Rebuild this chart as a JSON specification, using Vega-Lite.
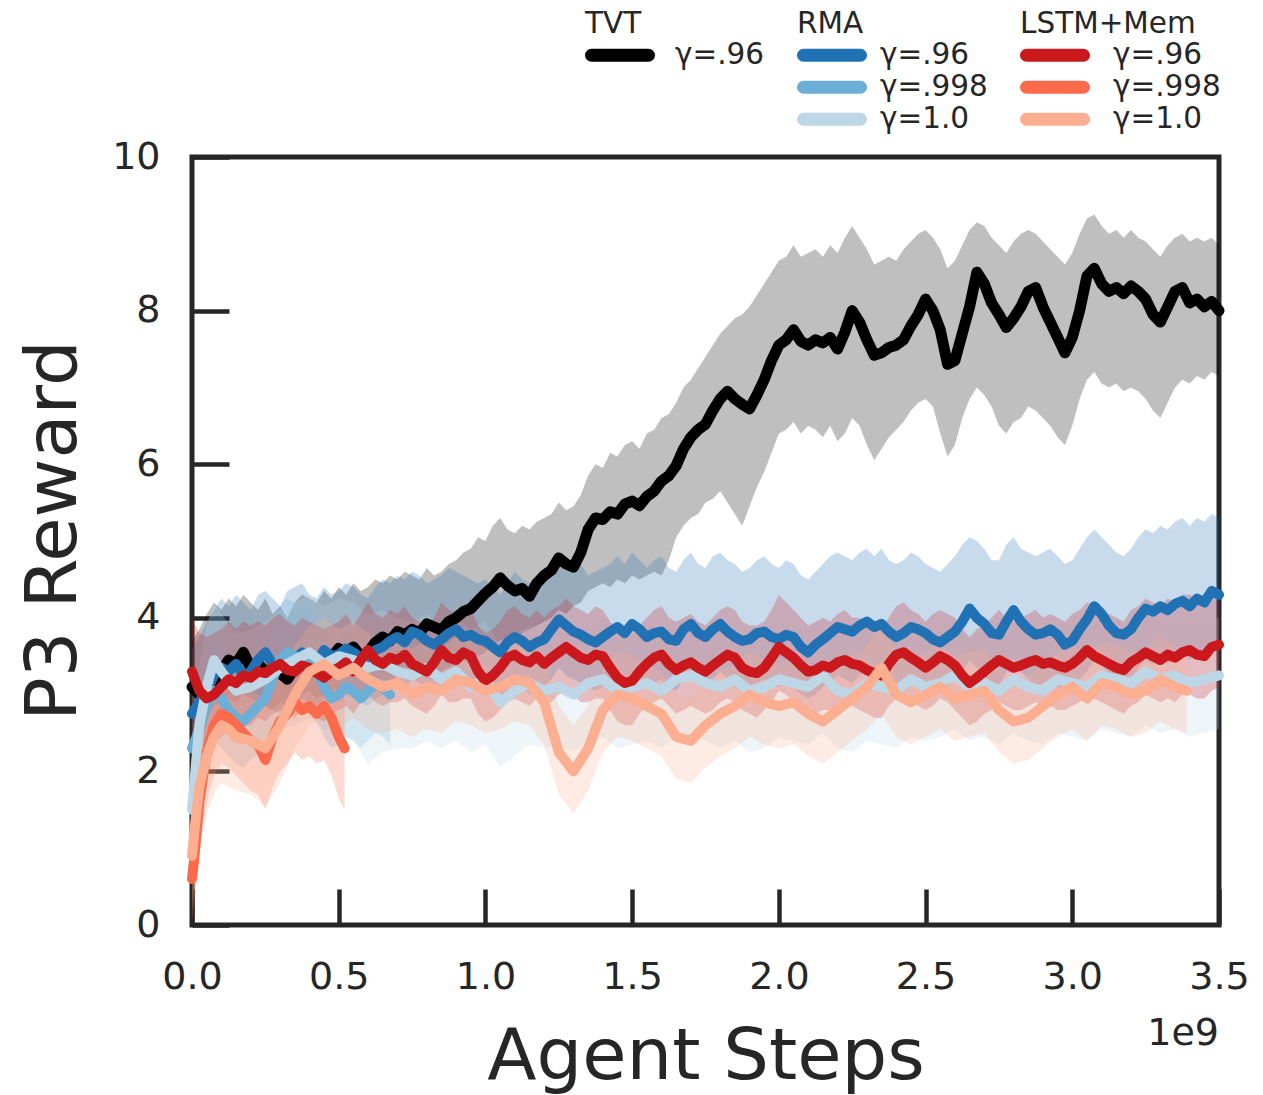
{
  "$schema": "https://vega.github.io/schema/vega-lite/v6.json",
  "width": 1027,
  "height": 768,
  "autosize": {"type": "none"},
  "padding": {"left": 192, "top": 157, "right": 44, "bottom": 170},
  "background": "white",
  "config": {
    "font": "DejaVu Sans",
    "view": {"stroke": "#262626", "strokeWidth": 5},
    "axis": {
      "domain": false, "grid": false, "ticks": true,
      "tickColor": "#262626", "tickWidth": 4.5,
      "labelColor": "#262626", "labelFont": "DejaVu Sans", "labelFontSize": 38,
      "labelFlush": false, "labelOverlap": false,
      "titleColor": "#262626", "titleFont": "DejaVu Sans", "titleFontSize": 72, "titleFontWeight": "normal"
    },
    "axisX": {"tickSize": -36, "labelPadding": 69, "titleX": 513.5, "titleY": 153, "titleBaseline": "alphabetic", "titleAlign": "center"},
    "axisY": {"tickSize": -37, "labelPadding": 69, "titleX": -117, "titleY": 373, "titleAngle": 270, "titleBaseline": "alphabetic", "titleAlign": "center"},
    "legend": {
      "orient": "none", "padding": 0, "offset": 0,
      "titleFont": "DejaVu Sans", "titleFontSize": 29.5, "titleFontWeight": "normal", "titleColor": "#262626",
      "titleBaseline": "top", "titlePadding": 0,
      "labelFont": "DejaVu Sans", "labelFontSize": 29.5, "labelColor": "#262626", "labelBaseline": "middle",
      "symbolType": "stroke", "symbolSize": 3249, "symbolStrokeWidth": 13, "symbolOpacity": 1,
      "clipHeight": 31.5, "rowPadding": 0
    }
  },
  "datasets": {
    "tvt": [
      {"g":"γ=.96","x":0.000,"y":3.10,"lo":2.55,"hi":3.70},
      {"g":"γ=.96","x":0.025,"y":3.00,"lo":2.60,"hi":3.85},
      {"g":"γ=.96","x":0.050,"y":2.95,"lo":2.70,"hi":4.05},
      {"g":"γ=.96","x":0.075,"y":3.15,"lo":2.85,"hi":4.20},
      {"g":"γ=.96","x":0.100,"y":3.30,"lo":2.90,"hi":4.10},
      {"g":"γ=.96","x":0.125,"y":3.45,"lo":2.95,"hi":4.25},
      {"g":"γ=.96","x":0.150,"y":3.40,"lo":2.90,"hi":4.15},
      {"g":"γ=.96","x":0.175,"y":3.55,"lo":3.00,"hi":4.30},
      {"g":"γ=.96","x":0.200,"y":3.35,"lo":2.95,"hi":4.20},
      {"g":"γ=.96","x":0.225,"y":3.40,"lo":2.90,"hi":4.10},
      {"g":"γ=.96","x":0.250,"y":3.30,"lo":2.85,"hi":4.25},
      {"g":"γ=.96","x":0.275,"y":3.25,"lo":2.80,"hi":4.05},
      {"g":"γ=.96","x":0.300,"y":3.28,"lo":2.90,"hi":4.15},
      {"g":"γ=.96","x":0.325,"y":3.20,"lo":2.85,"hi":4.00},
      {"g":"γ=.96","x":0.350,"y":3.35,"lo":2.95,"hi":4.20},
      {"g":"γ=.96","x":0.375,"y":3.40,"lo":3.00,"hi":4.30},
      {"g":"γ=.96","x":0.400,"y":3.45,"lo":3.05,"hi":4.25},
      {"g":"γ=.96","x":0.425,"y":3.42,"lo":2.95,"hi":4.20},
      {"g":"γ=.96","x":0.450,"y":3.52,"lo":3.00,"hi":4.35},
      {"g":"γ=.96","x":0.475,"y":3.48,"lo":3.05,"hi":4.25},
      {"g":"γ=.96","x":0.500,"y":3.60,"lo":3.10,"hi":4.40},
      {"g":"γ=.96","x":0.525,"y":3.55,"lo":3.05,"hi":4.30},
      {"g":"γ=.96","x":0.550,"y":3.62,"lo":3.10,"hi":4.45},
      {"g":"γ=.96","x":0.575,"y":3.50,"lo":3.05,"hi":4.35},
      {"g":"γ=.96","x":0.600,"y":3.55,"lo":3.10,"hi":4.40},
      {"g":"γ=.96","x":0.625,"y":3.68,"lo":3.15,"hi":4.50},
      {"g":"γ=.96","x":0.650,"y":3.75,"lo":3.20,"hi":4.45},
      {"g":"γ=.96","x":0.675,"y":3.70,"lo":3.15,"hi":4.55},
      {"g":"γ=.96","x":0.700,"y":3.82,"lo":3.25,"hi":4.50},
      {"g":"γ=.96","x":0.725,"y":3.78,"lo":3.20,"hi":4.60},
      {"g":"γ=.96","x":0.750,"y":3.85,"lo":3.30,"hi":4.55},
      {"g":"γ=.96","x":0.775,"y":3.80,"lo":3.25,"hi":4.50},
      {"g":"γ=.96","x":0.800,"y":3.92,"lo":3.30,"hi":4.65},
      {"g":"γ=.96","x":0.825,"y":3.88,"lo":3.25,"hi":4.55},
      {"g":"γ=.96","x":0.850,"y":3.84,"lo":3.30,"hi":4.60},
      {"g":"γ=.96","x":0.875,"y":3.95,"lo":3.35,"hi":4.70},
      {"g":"γ=.96","x":0.900,"y":4.00,"lo":3.40,"hi":4.75},
      {"g":"γ=.96","x":0.925,"y":4.08,"lo":3.45,"hi":4.85},
      {"g":"γ=.96","x":0.950,"y":4.12,"lo":3.40,"hi":4.90},
      {"g":"γ=.96","x":0.975,"y":4.22,"lo":3.50,"hi":5.05},
      {"g":"γ=.96","x":1.000,"y":4.32,"lo":3.55,"hi":5.00},
      {"g":"γ=.96","x":1.025,"y":4.40,"lo":3.65,"hi":5.20},
      {"g":"γ=.96","x":1.050,"y":4.52,"lo":3.70,"hi":5.30},
      {"g":"γ=.96","x":1.075,"y":4.42,"lo":3.75,"hi":5.15},
      {"g":"γ=.96","x":1.100,"y":4.35,"lo":3.70,"hi":5.10},
      {"g":"γ=.96","x":1.125,"y":4.38,"lo":3.80,"hi":5.20},
      {"g":"γ=.96","x":1.150,"y":4.28,"lo":3.85,"hi":5.15},
      {"g":"γ=.96","x":1.175,"y":4.45,"lo":3.90,"hi":5.25},
      {"g":"γ=.96","x":1.200,"y":4.55,"lo":3.95,"hi":5.30},
      {"g":"γ=.96","x":1.225,"y":4.62,"lo":4.00,"hi":5.35},
      {"g":"γ=.96","x":1.250,"y":4.78,"lo":4.10,"hi":5.50},
      {"g":"γ=.96","x":1.275,"y":4.70,"lo":4.05,"hi":5.40},
      {"g":"γ=.96","x":1.300,"y":4.66,"lo":4.15,"hi":5.45},
      {"g":"γ=.96","x":1.325,"y":4.85,"lo":4.20,"hi":5.60},
      {"g":"γ=.96","x":1.350,"y":5.15,"lo":4.35,"hi":5.85},
      {"g":"γ=.96","x":1.375,"y":5.30,"lo":4.40,"hi":6.00},
      {"g":"γ=.96","x":1.400,"y":5.28,"lo":4.45,"hi":5.95},
      {"g":"γ=.96","x":1.425,"y":5.38,"lo":4.40,"hi":6.15},
      {"g":"γ=.96","x":1.450,"y":5.35,"lo":4.50,"hi":6.10},
      {"g":"γ=.96","x":1.475,"y":5.48,"lo":4.45,"hi":6.25},
      {"g":"γ=.96","x":1.500,"y":5.52,"lo":4.55,"hi":6.30},
      {"g":"γ=.96","x":1.525,"y":5.46,"lo":4.50,"hi":6.20},
      {"g":"γ=.96","x":1.550,"y":5.58,"lo":4.55,"hi":6.40},
      {"g":"γ=.96","x":1.575,"y":5.65,"lo":4.60,"hi":6.45},
      {"g":"γ=.96","x":1.600,"y":5.78,"lo":4.55,"hi":6.60},
      {"g":"γ=.96","x":1.625,"y":5.85,"lo":4.75,"hi":6.65},
      {"g":"γ=.96","x":1.650,"y":5.98,"lo":5.05,"hi":6.80},
      {"g":"γ=.96","x":1.675,"y":6.20,"lo":5.20,"hi":7.00},
      {"g":"γ=.96","x":1.700,"y":6.35,"lo":5.30,"hi":7.10},
      {"g":"γ=.96","x":1.725,"y":6.45,"lo":5.35,"hi":7.25},
      {"g":"γ=.96","x":1.750,"y":6.52,"lo":5.50,"hi":7.40},
      {"g":"γ=.96","x":1.775,"y":6.70,"lo":5.55,"hi":7.55},
      {"g":"γ=.96","x":1.800,"y":6.85,"lo":5.65,"hi":7.70},
      {"g":"γ=.96","x":1.825,"y":6.95,"lo":5.50,"hi":7.80},
      {"g":"γ=.96","x":1.850,"y":6.85,"lo":5.35,"hi":7.90},
      {"g":"γ=.96","x":1.875,"y":6.78,"lo":5.20,"hi":7.95},
      {"g":"γ=.96","x":1.900,"y":6.72,"lo":5.45,"hi":8.05},
      {"g":"γ=.96","x":1.925,"y":6.90,"lo":5.70,"hi":8.20},
      {"g":"γ=.96","x":1.950,"y":7.10,"lo":5.90,"hi":8.35},
      {"g":"γ=.96","x":1.975,"y":7.35,"lo":6.15,"hi":8.50},
      {"g":"γ=.96","x":2.000,"y":7.55,"lo":6.40,"hi":8.65},
      {"g":"γ=.96","x":2.025,"y":7.62,"lo":6.45,"hi":8.70},
      {"g":"γ=.96","x":2.050,"y":7.75,"lo":6.55,"hi":8.85},
      {"g":"γ=.96","x":2.075,"y":7.60,"lo":6.40,"hi":8.70},
      {"g":"γ=.96","x":2.100,"y":7.55,"lo":6.50,"hi":8.75},
      {"g":"γ=.96","x":2.125,"y":7.62,"lo":6.45,"hi":8.80},
      {"g":"γ=.96","x":2.150,"y":7.58,"lo":6.35,"hi":8.70},
      {"g":"γ=.96","x":2.175,"y":7.65,"lo":6.50,"hi":8.85},
      {"g":"γ=.96","x":2.200,"y":7.50,"lo":6.30,"hi":8.75},
      {"g":"γ=.96","x":2.225,"y":7.72,"lo":6.40,"hi":8.95},
      {"g":"γ=.96","x":2.250,"y":8.00,"lo":6.60,"hi":9.10},
      {"g":"γ=.96","x":2.275,"y":7.85,"lo":6.50,"hi":8.95},
      {"g":"γ=.96","x":2.300,"y":7.62,"lo":6.25,"hi":8.80},
      {"g":"γ=.96","x":2.325,"y":7.42,"lo":6.05,"hi":8.60},
      {"g":"γ=.96","x":2.350,"y":7.45,"lo":6.20,"hi":8.65},
      {"g":"γ=.96","x":2.375,"y":7.52,"lo":6.35,"hi":8.70},
      {"g":"γ=.96","x":2.400,"y":7.55,"lo":6.45,"hi":8.65},
      {"g":"γ=.96","x":2.425,"y":7.62,"lo":6.55,"hi":8.80},
      {"g":"γ=.96","x":2.450,"y":7.80,"lo":6.70,"hi":8.90},
      {"g":"γ=.96","x":2.475,"y":7.95,"lo":6.80,"hi":9.00},
      {"g":"γ=.96","x":2.500,"y":8.15,"lo":6.85,"hi":9.05},
      {"g":"γ=.96","x":2.525,"y":8.00,"lo":6.75,"hi":8.95},
      {"g":"γ=.96","x":2.550,"y":7.75,"lo":6.40,"hi":8.80},
      {"g":"γ=.96","x":2.575,"y":7.30,"lo":6.10,"hi":8.55},
      {"g":"γ=.96","x":2.600,"y":7.35,"lo":6.25,"hi":8.65},
      {"g":"γ=.96","x":2.625,"y":7.70,"lo":6.60,"hi":8.85},
      {"g":"γ=.96","x":2.650,"y":8.05,"lo":6.85,"hi":9.05},
      {"g":"γ=.96","x":2.675,"y":8.50,"lo":7.00,"hi":9.15},
      {"g":"γ=.96","x":2.700,"y":8.35,"lo":6.90,"hi":9.10},
      {"g":"γ=.96","x":2.725,"y":8.10,"lo":6.75,"hi":8.95},
      {"g":"γ=.96","x":2.750,"y":7.95,"lo":6.50,"hi":8.85},
      {"g":"γ=.96","x":2.775,"y":7.78,"lo":6.40,"hi":8.75},
      {"g":"γ=.96","x":2.800,"y":7.90,"lo":6.55,"hi":8.90},
      {"g":"γ=.96","x":2.825,"y":8.05,"lo":6.60,"hi":9.00},
      {"g":"γ=.96","x":2.850,"y":8.25,"lo":6.75,"hi":9.05},
      {"g":"γ=.96","x":2.875,"y":8.30,"lo":6.70,"hi":9.00},
      {"g":"γ=.96","x":2.900,"y":8.05,"lo":6.60,"hi":8.90},
      {"g":"γ=.96","x":2.925,"y":7.85,"lo":6.50,"hi":8.80},
      {"g":"γ=.96","x":2.950,"y":7.65,"lo":6.35,"hi":8.70},
      {"g":"γ=.96","x":2.975,"y":7.45,"lo":6.25,"hi":8.60},
      {"g":"γ=.96","x":3.000,"y":7.65,"lo":6.50,"hi":8.75},
      {"g":"γ=.96","x":3.025,"y":8.00,"lo":6.85,"hi":9.00},
      {"g":"γ=.96","x":3.050,"y":8.45,"lo":7.10,"hi":9.20},
      {"g":"γ=.96","x":3.075,"y":8.55,"lo":7.20,"hi":9.25},
      {"g":"γ=.96","x":3.100,"y":8.35,"lo":7.05,"hi":9.10},
      {"g":"γ=.96","x":3.125,"y":8.25,"lo":7.00,"hi":9.00},
      {"g":"γ=.96","x":3.150,"y":8.30,"lo":7.05,"hi":9.05},
      {"g":"γ=.96","x":3.175,"y":8.22,"lo":6.95,"hi":8.95},
      {"g":"γ=.96","x":3.200,"y":8.32,"lo":7.00,"hi":9.05},
      {"g":"γ=.96","x":3.225,"y":8.25,"lo":6.95,"hi":8.95},
      {"g":"γ=.96","x":3.250,"y":8.15,"lo":6.85,"hi":8.90},
      {"g":"γ=.96","x":3.275,"y":7.95,"lo":6.70,"hi":8.80},
      {"g":"γ=.96","x":3.300,"y":7.85,"lo":6.60,"hi":8.70},
      {"g":"γ=.96","x":3.325,"y":8.05,"lo":6.80,"hi":8.85},
      {"g":"γ=.96","x":3.350,"y":8.25,"lo":7.00,"hi":8.95},
      {"g":"γ=.96","x":3.375,"y":8.30,"lo":7.10,"hi":9.00},
      {"g":"γ=.96","x":3.400,"y":8.10,"lo":7.05,"hi":8.90},
      {"g":"γ=.96","x":3.425,"y":8.15,"lo":7.15,"hi":8.95},
      {"g":"γ=.96","x":3.450,"y":8.05,"lo":7.10,"hi":8.90},
      {"g":"γ=.96","x":3.475,"y":8.12,"lo":7.20,"hi":8.95},
      {"g":"γ=.96","x":3.500,"y":8.00,"lo":7.15,"hi":8.85}
    ],
    "rma": [
      {"g":"γ=.96","x":0.000,"y":2.75,"lo":1.90,"hi":3.60},
      {"g":"γ=.96","x":0.025,"y":2.90,"lo":2.10,"hi":3.75},
      {"g":"γ=.96","x":0.050,"y":3.05,"lo":2.30,"hi":3.95},
      {"g":"γ=.96","x":0.075,"y":3.25,"lo":2.55,"hi":4.10},
      {"g":"γ=.96","x":0.100,"y":3.35,"lo":2.70,"hi":4.25},
      {"g":"γ=.96","x":0.125,"y":3.30,"lo":2.65,"hi":4.15},
      {"g":"γ=.96","x":0.150,"y":3.40,"lo":2.75,"hi":4.30},
      {"g":"γ=.96","x":0.175,"y":3.25,"lo":2.60,"hi":4.20},
      {"g":"γ=.96","x":0.200,"y":3.30,"lo":2.70,"hi":4.10},
      {"g":"γ=.96","x":0.225,"y":3.45,"lo":2.80,"hi":4.30},
      {"g":"γ=.96","x":0.250,"y":3.55,"lo":2.85,"hi":4.35},
      {"g":"γ=.96","x":0.275,"y":3.40,"lo":2.80,"hi":4.25},
      {"g":"γ=.96","x":0.300,"y":3.35,"lo":2.75,"hi":4.15},
      {"g":"γ=.96","x":0.325,"y":3.50,"lo":2.85,"hi":4.35},
      {"g":"γ=.96","x":0.350,"y":3.45,"lo":2.80,"hi":4.40},
      {"g":"γ=.96","x":0.375,"y":3.55,"lo":2.95,"hi":4.45},
      {"g":"γ=.96","x":0.400,"y":3.50,"lo":2.90,"hi":4.30},
      {"g":"γ=.96","x":0.425,"y":3.42,"lo":2.85,"hi":4.25},
      {"g":"γ=.96","x":0.450,"y":3.58,"lo":2.95,"hi":4.40},
      {"g":"γ=.96","x":0.475,"y":3.50,"lo":2.90,"hi":4.30},
      {"g":"γ=.96","x":0.500,"y":3.52,"lo":2.95,"hi":4.35},
      {"g":"γ=.96","x":0.525,"y":3.60,"lo":3.00,"hi":4.45},
      {"g":"γ=.96","x":0.550,"y":3.55,"lo":2.95,"hi":4.40},
      {"g":"γ=.96","x":0.575,"y":3.48,"lo":2.90,"hi":4.30},
      {"g":"γ=.96","x":0.600,"y":3.45,"lo":2.85,"hi":4.25},
      {"g":"γ=.96","x":0.625,"y":3.58,"lo":2.95,"hi":4.40},
      {"g":"γ=.96","x":0.650,"y":3.62,"lo":3.00,"hi":4.50},
      {"g":"γ=.96","x":0.675,"y":3.70,"lo":3.10,"hi":4.45},
      {"g":"γ=.96","x":0.700,"y":3.75,"lo":3.15,"hi":4.55},
      {"g":"γ=.96","x":0.725,"y":3.68,"lo":3.05,"hi":4.50},
      {"g":"γ=.96","x":0.750,"y":3.82,"lo":3.20,"hi":4.60},
      {"g":"γ=.96","x":0.775,"y":3.78,"lo":3.15,"hi":4.55},
      {"g":"γ=.96","x":0.800,"y":3.70,"lo":3.10,"hi":4.45},
      {"g":"γ=.96","x":0.825,"y":3.65,"lo":3.05,"hi":4.50},
      {"g":"γ=.96","x":0.850,"y":3.72,"lo":3.10,"hi":4.55},
      {"g":"γ=.96","x":0.875,"y":3.80,"lo":3.20,"hi":4.65},
      {"g":"γ=.96","x":0.900,"y":3.85,"lo":3.25,"hi":4.60},
      {"g":"γ=.96","x":0.925,"y":3.75,"lo":3.15,"hi":4.55},
      {"g":"γ=.96","x":0.950,"y":3.78,"lo":3.20,"hi":4.50},
      {"g":"γ=.96","x":0.975,"y":3.72,"lo":3.10,"hi":4.45},
      {"g":"γ=.96","x":1.000,"y":3.70,"lo":3.10,"hi":4.50},
      {"g":"γ=.96","x":1.025,"y":3.62,"lo":3.00,"hi":4.40},
      {"g":"γ=.96","x":1.050,"y":3.55,"lo":2.95,"hi":4.30},
      {"g":"γ=.96","x":1.075,"y":3.68,"lo":3.05,"hi":4.45},
      {"g":"γ=.96","x":1.100,"y":3.75,"lo":3.15,"hi":4.60},
      {"g":"γ=.96","x":1.125,"y":3.70,"lo":3.10,"hi":4.50},
      {"g":"γ=.96","x":1.150,"y":3.62,"lo":3.00,"hi":4.45},
      {"g":"γ=.96","x":1.175,"y":3.68,"lo":3.05,"hi":4.55},
      {"g":"γ=.96","x":1.200,"y":3.72,"lo":3.10,"hi":4.60},
      {"g":"γ=.96","x":1.225,"y":3.85,"lo":3.20,"hi":4.70},
      {"g":"γ=.96","x":1.250,"y":3.98,"lo":3.35,"hi":4.80},
      {"g":"γ=.96","x":1.275,"y":3.90,"lo":3.25,"hi":4.75},
      {"g":"γ=.96","x":1.300,"y":3.82,"lo":3.20,"hi":4.65},
      {"g":"γ=.96","x":1.325,"y":3.78,"lo":3.15,"hi":4.70},
      {"g":"γ=.96","x":1.350,"y":3.72,"lo":3.10,"hi":4.55},
      {"g":"γ=.96","x":1.375,"y":3.68,"lo":3.05,"hi":4.60},
      {"g":"γ=.96","x":1.400,"y":3.75,"lo":3.10,"hi":4.65},
      {"g":"γ=.96","x":1.425,"y":3.82,"lo":3.20,"hi":4.70},
      {"g":"γ=.96","x":1.450,"y":3.88,"lo":3.25,"hi":4.80},
      {"g":"γ=.96","x":1.475,"y":3.80,"lo":3.15,"hi":4.70},
      {"g":"γ=.96","x":1.500,"y":3.92,"lo":3.30,"hi":4.85},
      {"g":"γ=.96","x":1.525,"y":3.85,"lo":3.20,"hi":4.75},
      {"g":"γ=.96","x":1.550,"y":3.75,"lo":3.10,"hi":4.65},
      {"g":"γ=.96","x":1.575,"y":3.80,"lo":3.15,"hi":4.75},
      {"g":"γ=.96","x":1.600,"y":3.82,"lo":3.20,"hi":4.80},
      {"g":"γ=.96","x":1.625,"y":3.72,"lo":3.10,"hi":4.65},
      {"g":"γ=.96","x":1.650,"y":3.70,"lo":3.05,"hi":4.60},
      {"g":"γ=.96","x":1.675,"y":3.85,"lo":3.20,"hi":4.75},
      {"g":"γ=.96","x":1.700,"y":3.92,"lo":3.30,"hi":4.85},
      {"g":"γ=.96","x":1.725,"y":3.80,"lo":3.15,"hi":4.70},
      {"g":"γ=.96","x":1.750,"y":3.75,"lo":3.10,"hi":4.65},
      {"g":"γ=.96","x":1.775,"y":3.85,"lo":3.20,"hi":4.80},
      {"g":"γ=.96","x":1.800,"y":3.92,"lo":3.30,"hi":4.85},
      {"g":"γ=.96","x":1.825,"y":3.82,"lo":3.20,"hi":4.75},
      {"g":"γ=.96","x":1.850,"y":3.75,"lo":3.10,"hi":4.70},
      {"g":"γ=.96","x":1.875,"y":3.70,"lo":3.05,"hi":4.60},
      {"g":"γ=.96","x":1.900,"y":3.72,"lo":3.10,"hi":4.65},
      {"g":"γ=.96","x":1.925,"y":3.80,"lo":3.15,"hi":4.75},
      {"g":"γ=.96","x":1.950,"y":3.82,"lo":3.20,"hi":4.80},
      {"g":"γ=.96","x":1.975,"y":3.75,"lo":3.10,"hi":4.70},
      {"g":"γ=.96","x":2.000,"y":3.72,"lo":3.10,"hi":4.65},
      {"g":"γ=.96","x":2.025,"y":3.78,"lo":3.15,"hi":4.75},
      {"g":"γ=.96","x":2.050,"y":3.75,"lo":3.10,"hi":4.70},
      {"g":"γ=.96","x":2.075,"y":3.62,"lo":3.00,"hi":4.55},
      {"g":"γ=.96","x":2.100,"y":3.55,"lo":2.95,"hi":4.50},
      {"g":"γ=.96","x":2.125,"y":3.65,"lo":3.00,"hi":4.60},
      {"g":"γ=.96","x":2.150,"y":3.72,"lo":3.10,"hi":4.70},
      {"g":"γ=.96","x":2.175,"y":3.80,"lo":3.15,"hi":4.80},
      {"g":"γ=.96","x":2.200,"y":3.88,"lo":3.25,"hi":4.85},
      {"g":"γ=.96","x":2.225,"y":3.85,"lo":3.20,"hi":4.80},
      {"g":"γ=.96","x":2.250,"y":3.82,"lo":3.15,"hi":4.75},
      {"g":"γ=.96","x":2.275,"y":3.90,"lo":3.25,"hi":4.85},
      {"g":"γ=.96","x":2.300,"y":3.95,"lo":3.30,"hi":4.90},
      {"g":"γ=.96","x":2.325,"y":3.88,"lo":3.25,"hi":4.80},
      {"g":"γ=.96","x":2.350,"y":3.92,"lo":3.30,"hi":4.90},
      {"g":"γ=.96","x":2.375,"y":3.82,"lo":3.15,"hi":4.75},
      {"g":"γ=.96","x":2.400,"y":3.75,"lo":3.10,"hi":4.70},
      {"g":"γ=.96","x":2.425,"y":3.80,"lo":3.15,"hi":4.75},
      {"g":"γ=.96","x":2.450,"y":3.88,"lo":3.25,"hi":4.85},
      {"g":"γ=.96","x":2.475,"y":3.85,"lo":3.20,"hi":4.80},
      {"g":"γ=.96","x":2.500,"y":3.80,"lo":3.15,"hi":4.70},
      {"g":"γ=.96","x":2.525,"y":3.72,"lo":3.10,"hi":4.65},
      {"g":"γ=.96","x":2.550,"y":3.68,"lo":3.05,"hi":4.60},
      {"g":"γ=.96","x":2.575,"y":3.75,"lo":3.10,"hi":4.70},
      {"g":"γ=.96","x":2.600,"y":3.82,"lo":3.20,"hi":4.80},
      {"g":"γ=.96","x":2.625,"y":3.95,"lo":3.30,"hi":4.95},
      {"g":"γ=.96","x":2.650,"y":4.12,"lo":3.45,"hi":5.05},
      {"g":"γ=.96","x":2.675,"y":4.00,"lo":3.35,"hi":5.00},
      {"g":"γ=.96","x":2.700,"y":3.92,"lo":3.25,"hi":4.90},
      {"g":"γ=.96","x":2.725,"y":3.80,"lo":3.15,"hi":4.75},
      {"g":"γ=.96","x":2.750,"y":3.78,"lo":3.10,"hi":4.75},
      {"g":"γ=.96","x":2.775,"y":3.95,"lo":3.30,"hi":4.95},
      {"g":"γ=.96","x":2.800,"y":4.10,"lo":3.45,"hi":5.05},
      {"g":"γ=.96","x":2.825,"y":3.95,"lo":3.30,"hi":4.90},
      {"g":"γ=.96","x":2.850,"y":3.85,"lo":3.20,"hi":4.85},
      {"g":"γ=.96","x":2.875,"y":3.78,"lo":3.10,"hi":4.80},
      {"g":"γ=.96","x":2.900,"y":3.80,"lo":3.15,"hi":4.85},
      {"g":"γ=.96","x":2.925,"y":3.85,"lo":3.20,"hi":4.90},
      {"g":"γ=.96","x":2.950,"y":3.78,"lo":3.10,"hi":4.80},
      {"g":"γ=.96","x":2.975,"y":3.65,"lo":3.00,"hi":4.70},
      {"g":"γ=.96","x":3.000,"y":3.70,"lo":3.05,"hi":4.75},
      {"g":"γ=.96","x":3.025,"y":3.85,"lo":3.20,"hi":4.90},
      {"g":"γ=.96","x":3.050,"y":3.98,"lo":3.30,"hi":5.05},
      {"g":"γ=.96","x":3.075,"y":4.15,"lo":3.45,"hi":5.15},
      {"g":"γ=.96","x":3.100,"y":4.05,"lo":3.40,"hi":5.05},
      {"g":"γ=.96","x":3.125,"y":3.90,"lo":3.25,"hi":4.95},
      {"g":"γ=.96","x":3.150,"y":3.80,"lo":3.15,"hi":4.85},
      {"g":"γ=.96","x":3.175,"y":3.78,"lo":3.10,"hi":4.80},
      {"g":"γ=.96","x":3.200,"y":3.85,"lo":3.20,"hi":4.90},
      {"g":"γ=.96","x":3.225,"y":4.00,"lo":3.35,"hi":5.05},
      {"g":"γ=.96","x":3.250,"y":4.12,"lo":3.45,"hi":5.15},
      {"g":"γ=.96","x":3.275,"y":4.08,"lo":3.40,"hi":5.10},
      {"g":"γ=.96","x":3.300,"y":4.15,"lo":3.45,"hi":5.20},
      {"g":"γ=.96","x":3.325,"y":4.10,"lo":3.40,"hi":5.15},
      {"g":"γ=.96","x":3.350,"y":4.18,"lo":3.50,"hi":5.25},
      {"g":"γ=.96","x":3.375,"y":4.22,"lo":3.55,"hi":5.30},
      {"g":"γ=.96","x":3.400,"y":4.15,"lo":3.45,"hi":5.20},
      {"g":"γ=.96","x":3.425,"y":4.25,"lo":3.55,"hi":5.30},
      {"g":"γ=.96","x":3.450,"y":4.20,"lo":3.50,"hi":5.25},
      {"g":"γ=.96","x":3.475,"y":4.35,"lo":3.65,"hi":5.35},
      {"g":"γ=.96","x":3.500,"y":4.30,"lo":3.60,"hi":5.30},
      {"g":"γ=.998","x":0.000,"y":2.30,"lo":1.60,"hi":3.00},
      {"g":"γ=.998","x":0.025,"y":2.55,"lo":1.90,"hi":3.25},
      {"g":"γ=.998","x":0.050,"y":2.85,"lo":2.20,"hi":3.55},
      {"g":"γ=.998","x":0.075,"y":3.05,"lo":2.40,"hi":3.75},
      {"g":"γ=.998","x":0.100,"y":2.95,"lo":2.30,"hi":3.65},
      {"g":"γ=.998","x":0.125,"y":2.80,"lo":2.20,"hi":3.50},
      {"g":"γ=.998","x":0.150,"y":2.70,"lo":2.10,"hi":3.40},
      {"g":"γ=.998","x":0.175,"y":2.65,"lo":2.05,"hi":3.35},
      {"g":"γ=.998","x":0.200,"y":2.75,"lo":2.15,"hi":3.45},
      {"g":"γ=.998","x":0.225,"y":2.85,"lo":2.25,"hi":3.55},
      {"g":"γ=.998","x":0.250,"y":2.95,"lo":2.35,"hi":3.65},
      {"g":"γ=.998","x":0.275,"y":3.20,"lo":2.55,"hi":3.90},
      {"g":"γ=.998","x":0.300,"y":3.45,"lo":2.80,"hi":4.15},
      {"g":"γ=.998","x":0.325,"y":3.55,"lo":2.90,"hi":4.25},
      {"g":"γ=.998","x":0.350,"y":3.50,"lo":2.85,"hi":4.20},
      {"g":"γ=.998","x":0.375,"y":3.40,"lo":2.75,"hi":4.10},
      {"g":"γ=.998","x":0.400,"y":3.50,"lo":2.85,"hi":4.20},
      {"g":"γ=.998","x":0.425,"y":3.30,"lo":2.65,"hi":4.00},
      {"g":"γ=.998","x":0.450,"y":3.10,"lo":2.45,"hi":3.80},
      {"g":"γ=.998","x":0.475,"y":2.95,"lo":2.30,"hi":3.65},
      {"g":"γ=.998","x":0.500,"y":3.00,"lo":2.35,"hi":3.70},
      {"g":"γ=.998","x":0.525,"y":3.10,"lo":2.45,"hi":3.80},
      {"g":"γ=.998","x":0.550,"y":3.05,"lo":2.40,"hi":3.75},
      {"g":"γ=.998","x":0.575,"y":2.95,"lo":2.30,"hi":3.65},
      {"g":"γ=.998","x":0.600,"y":3.05,"lo":2.40,"hi":3.75},
      {"g":"γ=.998","x":0.625,"y":3.15,"lo":2.50,"hi":3.85},
      {"g":"γ=.998","x":0.650,"y":3.10,"lo":2.45,"hi":3.80},
      {"g":"γ=.998","x":0.675,"y":3.00,"lo":2.35,"hi":3.70},
      {"g":"γ=1.0","x":0.000,"y":1.50,"lo":0.80,"hi":2.40},
      {"g":"γ=1.0","x":0.025,"y":2.60,"lo":1.90,"hi":3.40},
      {"g":"γ=1.0","x":0.050,"y":3.10,"lo":2.40,"hi":3.90},
      {"g":"γ=1.0","x":0.075,"y":3.45,"lo":2.70,"hi":4.20},
      {"g":"γ=1.0","x":0.100,"y":3.30,"lo":2.60,"hi":4.05},
      {"g":"γ=1.0","x":0.150,"y":3.05,"lo":2.35,"hi":3.80},
      {"g":"γ=1.0","x":0.200,"y":3.10,"lo":2.40,"hi":3.85},
      {"g":"γ=1.0","x":0.250,"y":3.20,"lo":2.45,"hi":3.95},
      {"g":"γ=1.0","x":0.300,"y":3.35,"lo":2.55,"hi":4.10},
      {"g":"γ=1.0","x":0.350,"y":3.45,"lo":2.60,"hi":4.20},
      {"g":"γ=1.0","x":0.400,"y":3.55,"lo":2.70,"hi":4.30},
      {"g":"γ=1.0","x":0.450,"y":3.40,"lo":2.55,"hi":4.15},
      {"g":"γ=1.0","x":0.500,"y":3.50,"lo":2.50,"hi":4.25},
      {"g":"γ=1.0","x":0.550,"y":3.45,"lo":2.40,"hi":4.20},
      {"g":"γ=1.0","x":0.600,"y":3.35,"lo":2.10,"hi":4.05},
      {"g":"γ=1.0","x":0.650,"y":3.40,"lo":2.25,"hi":4.10},
      {"g":"γ=1.0","x":0.700,"y":3.30,"lo":2.30,"hi":4.00},
      {"g":"γ=1.0","x":0.750,"y":3.25,"lo":2.30,"hi":3.95},
      {"g":"γ=1.0","x":0.800,"y":3.35,"lo":2.40,"hi":4.05},
      {"g":"γ=1.0","x":0.850,"y":3.20,"lo":2.30,"hi":3.90},
      {"g":"γ=1.0","x":0.900,"y":3.30,"lo":2.40,"hi":4.00},
      {"g":"γ=1.0","x":0.950,"y":3.10,"lo":2.25,"hi":3.85},
      {"g":"γ=1.0","x":1.000,"y":3.20,"lo":2.35,"hi":3.95},
      {"g":"γ=1.0","x":1.050,"y":2.90,"lo":2.05,"hi":3.65},
      {"g":"γ=1.0","x":1.100,"y":3.05,"lo":2.20,"hi":3.80},
      {"g":"γ=1.0","x":1.150,"y":3.15,"lo":2.35,"hi":3.90},
      {"g":"γ=1.0","x":1.200,"y":3.05,"lo":2.30,"hi":3.80},
      {"g":"γ=1.0","x":1.250,"y":3.10,"lo":2.35,"hi":3.85},
      {"g":"γ=1.0","x":1.300,"y":3.00,"lo":2.25,"hi":3.75},
      {"g":"γ=1.0","x":1.350,"y":3.15,"lo":2.40,"hi":3.90},
      {"g":"γ=1.0","x":1.400,"y":3.20,"lo":2.45,"hi":3.95},
      {"g":"γ=1.0","x":1.450,"y":3.05,"lo":2.30,"hi":3.80},
      {"g":"γ=1.0","x":1.500,"y":3.10,"lo":2.35,"hi":3.85},
      {"g":"γ=1.0","x":1.550,"y":3.15,"lo":2.40,"hi":3.90},
      {"g":"γ=1.0","x":1.600,"y":3.05,"lo":2.30,"hi":3.80},
      {"g":"γ=1.0","x":1.650,"y":3.20,"lo":2.45,"hi":3.95},
      {"g":"γ=1.0","x":1.700,"y":3.25,"lo":2.50,"hi":4.00},
      {"g":"γ=1.0","x":1.750,"y":3.15,"lo":2.40,"hi":3.90},
      {"g":"γ=1.0","x":1.800,"y":3.10,"lo":2.30,"hi":3.85},
      {"g":"γ=1.0","x":1.850,"y":3.20,"lo":2.40,"hi":3.95},
      {"g":"γ=1.0","x":1.900,"y":3.05,"lo":2.25,"hi":3.80},
      {"g":"γ=1.0","x":1.950,"y":3.10,"lo":2.30,"hi":3.85},
      {"g":"γ=1.0","x":2.000,"y":3.20,"lo":2.45,"hi":3.95},
      {"g":"γ=1.0","x":2.050,"y":3.15,"lo":2.40,"hi":3.90},
      {"g":"γ=1.0","x":2.100,"y":3.10,"lo":2.35,"hi":3.85},
      {"g":"γ=1.0","x":2.150,"y":3.25,"lo":2.50,"hi":4.00},
      {"g":"γ=1.0","x":2.200,"y":3.05,"lo":2.30,"hi":3.80},
      {"g":"γ=1.0","x":2.250,"y":3.00,"lo":2.25,"hi":3.75},
      {"g":"γ=1.0","x":2.300,"y":3.15,"lo":2.40,"hi":3.90},
      {"g":"γ=1.0","x":2.350,"y":3.10,"lo":2.35,"hi":3.85},
      {"g":"γ=1.0","x":2.400,"y":3.05,"lo":2.30,"hi":3.80},
      {"g":"γ=1.0","x":2.450,"y":3.20,"lo":2.45,"hi":3.95},
      {"g":"γ=1.0","x":2.500,"y":3.10,"lo":2.40,"hi":3.85},
      {"g":"γ=1.0","x":2.550,"y":3.15,"lo":2.45,"hi":3.90},
      {"g":"γ=1.0","x":2.600,"y":3.25,"lo":2.55,"hi":4.00},
      {"g":"γ=1.0","x":2.650,"y":3.10,"lo":2.40,"hi":3.85},
      {"g":"γ=1.0","x":2.700,"y":3.15,"lo":2.45,"hi":3.90},
      {"g":"γ=1.0","x":2.750,"y":3.05,"lo":2.35,"hi":3.80},
      {"g":"γ=1.0","x":2.800,"y":3.20,"lo":2.50,"hi":3.95},
      {"g":"γ=1.0","x":2.850,"y":3.10,"lo":2.40,"hi":3.85},
      {"g":"γ=1.0","x":2.900,"y":3.05,"lo":2.35,"hi":3.80},
      {"g":"γ=1.0","x":2.950,"y":3.20,"lo":2.50,"hi":3.95},
      {"g":"γ=1.0","x":3.000,"y":3.15,"lo":2.45,"hi":3.90},
      {"g":"γ=1.0","x":3.050,"y":3.10,"lo":2.40,"hi":3.85},
      {"g":"γ=1.0","x":3.100,"y":3.25,"lo":2.55,"hi":4.00},
      {"g":"γ=1.0","x":3.150,"y":3.20,"lo":2.50,"hi":3.95},
      {"g":"γ=1.0","x":3.200,"y":3.15,"lo":2.45,"hi":3.90},
      {"g":"γ=1.0","x":3.250,"y":3.30,"lo":2.60,"hi":4.05},
      {"g":"γ=1.0","x":3.300,"y":3.20,"lo":2.50,"hi":3.95},
      {"g":"γ=1.0","x":3.350,"y":3.25,"lo":2.55,"hi":4.00},
      {"g":"γ=1.0","x":3.400,"y":3.15,"lo":2.45,"hi":3.90},
      {"g":"γ=1.0","x":3.450,"y":3.20,"lo":2.50,"hi":3.95},
      {"g":"γ=1.0","x":3.500,"y":3.25,"lo":2.55,"hi":4.00}
    ],
    "lstm": [
      {"g":"γ=.96","x":0.000,"y":3.30,"lo":2.50,"hi":4.00},
      {"g":"γ=.96","x":0.025,"y":3.05,"lo":2.35,"hi":3.80},
      {"g":"γ=.96","x":0.050,"y":2.95,"lo":2.30,"hi":3.75},
      {"g":"γ=.96","x":0.075,"y":3.00,"lo":2.35,"hi":3.80},
      {"g":"γ=.96","x":0.100,"y":3.10,"lo":2.45,"hi":3.85},
      {"g":"γ=.96","x":0.125,"y":3.20,"lo":2.55,"hi":3.95},
      {"g":"γ=.96","x":0.150,"y":3.15,"lo":2.50,"hi":3.85},
      {"g":"γ=.96","x":0.175,"y":3.25,"lo":2.60,"hi":3.95},
      {"g":"γ=.96","x":0.200,"y":3.22,"lo":2.60,"hi":3.90},
      {"g":"γ=.96","x":0.225,"y":3.30,"lo":2.70,"hi":3.95},
      {"g":"γ=.96","x":0.250,"y":3.28,"lo":2.65,"hi":3.90},
      {"g":"γ=.96","x":0.275,"y":3.35,"lo":2.75,"hi":4.00},
      {"g":"γ=.96","x":0.300,"y":3.40,"lo":2.80,"hi":4.05},
      {"g":"γ=.96","x":0.325,"y":3.32,"lo":2.75,"hi":3.95},
      {"g":"γ=.96","x":0.350,"y":3.30,"lo":2.70,"hi":3.90},
      {"g":"γ=.96","x":0.375,"y":3.38,"lo":2.80,"hi":4.00},
      {"g":"γ=.96","x":0.400,"y":3.35,"lo":2.75,"hi":3.95},
      {"g":"γ=.96","x":0.425,"y":3.28,"lo":2.70,"hi":3.90},
      {"g":"γ=.96","x":0.450,"y":3.22,"lo":2.65,"hi":3.85},
      {"g":"γ=.96","x":0.475,"y":3.30,"lo":2.75,"hi":3.90},
      {"g":"γ=.96","x":0.500,"y":3.35,"lo":2.80,"hi":3.95},
      {"g":"γ=.96","x":0.525,"y":3.42,"lo":2.85,"hi":4.05},
      {"g":"γ=.96","x":0.550,"y":3.30,"lo":2.75,"hi":3.90},
      {"g":"γ=.96","x":0.575,"y":3.45,"lo":2.90,"hi":4.05},
      {"g":"γ=.96","x":0.600,"y":3.58,"lo":3.00,"hi":4.20},
      {"g":"γ=.96","x":0.625,"y":3.45,"lo":2.90,"hi":4.05},
      {"g":"γ=.96","x":0.650,"y":3.40,"lo":2.85,"hi":4.00},
      {"g":"γ=.96","x":0.675,"y":3.48,"lo":2.90,"hi":4.10},
      {"g":"γ=.96","x":0.700,"y":3.45,"lo":2.90,"hi":4.05},
      {"g":"γ=.96","x":0.725,"y":3.52,"lo":2.95,"hi":4.15},
      {"g":"γ=.96","x":0.750,"y":3.40,"lo":2.85,"hi":4.00},
      {"g":"γ=.96","x":0.775,"y":3.35,"lo":2.80,"hi":3.95},
      {"g":"γ=.96","x":0.800,"y":3.30,"lo":2.75,"hi":3.90},
      {"g":"γ=.96","x":0.825,"y":3.42,"lo":2.85,"hi":4.00},
      {"g":"γ=.96","x":0.850,"y":3.58,"lo":3.00,"hi":4.20},
      {"g":"γ=.96","x":0.875,"y":3.48,"lo":2.90,"hi":4.10},
      {"g":"γ=.96","x":0.900,"y":3.45,"lo":2.90,"hi":4.05},
      {"g":"γ=.96","x":0.925,"y":3.55,"lo":2.95,"hi":4.15},
      {"g":"γ=.96","x":0.950,"y":3.50,"lo":2.95,"hi":4.10},
      {"g":"γ=.96","x":0.975,"y":3.30,"lo":2.75,"hi":3.90},
      {"g":"γ=.96","x":1.000,"y":3.18,"lo":2.65,"hi":3.80},
      {"g":"γ=.96","x":1.025,"y":3.25,"lo":2.70,"hi":3.85},
      {"g":"γ=.96","x":1.050,"y":3.35,"lo":2.80,"hi":3.95},
      {"g":"γ=.96","x":1.075,"y":3.48,"lo":2.90,"hi":4.10},
      {"g":"γ=.96","x":1.100,"y":3.52,"lo":2.95,"hi":4.15},
      {"g":"γ=.96","x":1.125,"y":3.45,"lo":2.90,"hi":4.05},
      {"g":"γ=.96","x":1.150,"y":3.42,"lo":2.85,"hi":4.00},
      {"g":"γ=.96","x":1.175,"y":3.50,"lo":2.95,"hi":4.10},
      {"g":"γ=.96","x":1.200,"y":3.40,"lo":2.85,"hi":4.00},
      {"g":"γ=.96","x":1.225,"y":3.48,"lo":2.90,"hi":4.10},
      {"g":"γ=.96","x":1.250,"y":3.55,"lo":3.00,"hi":4.15},
      {"g":"γ=.96","x":1.275,"y":3.62,"lo":3.05,"hi":4.25},
      {"g":"γ=.96","x":1.300,"y":3.55,"lo":3.00,"hi":4.15},
      {"g":"γ=.96","x":1.325,"y":3.48,"lo":2.90,"hi":4.10},
      {"g":"γ=.96","x":1.350,"y":3.45,"lo":2.90,"hi":4.05},
      {"g":"γ=.96","x":1.375,"y":3.52,"lo":2.95,"hi":4.15},
      {"g":"γ=.96","x":1.400,"y":3.50,"lo":2.95,"hi":4.10},
      {"g":"γ=.96","x":1.425,"y":3.35,"lo":2.80,"hi":3.95},
      {"g":"γ=.96","x":1.450,"y":3.22,"lo":2.65,"hi":3.85},
      {"g":"γ=.96","x":1.475,"y":3.15,"lo":2.60,"hi":3.75},
      {"g":"γ=.96","x":1.500,"y":3.18,"lo":2.60,"hi":3.80},
      {"g":"γ=.96","x":1.525,"y":3.30,"lo":2.75,"hi":3.90},
      {"g":"γ=.96","x":1.550,"y":3.40,"lo":2.85,"hi":4.00},
      {"g":"γ=.96","x":1.575,"y":3.48,"lo":2.90,"hi":4.10},
      {"g":"γ=.96","x":1.600,"y":3.52,"lo":2.95,"hi":4.15},
      {"g":"γ=.96","x":1.625,"y":3.40,"lo":2.85,"hi":4.00},
      {"g":"γ=.96","x":1.650,"y":3.32,"lo":2.75,"hi":3.95},
      {"g":"γ=.96","x":1.675,"y":3.38,"lo":2.80,"hi":4.00},
      {"g":"γ=.96","x":1.700,"y":3.42,"lo":2.85,"hi":4.05},
      {"g":"γ=.96","x":1.725,"y":3.35,"lo":2.80,"hi":3.95},
      {"g":"γ=.96","x":1.750,"y":3.30,"lo":2.75,"hi":3.90},
      {"g":"γ=.96","x":1.775,"y":3.38,"lo":2.80,"hi":4.00},
      {"g":"γ=.96","x":1.800,"y":3.45,"lo":2.90,"hi":4.10},
      {"g":"γ=.96","x":1.825,"y":3.52,"lo":2.95,"hi":4.15},
      {"g":"γ=.96","x":1.850,"y":3.48,"lo":2.90,"hi":4.10},
      {"g":"γ=.96","x":1.875,"y":3.35,"lo":2.80,"hi":3.95},
      {"g":"γ=.96","x":1.900,"y":3.30,"lo":2.75,"hi":3.90},
      {"g":"γ=.96","x":1.925,"y":3.28,"lo":2.70,"hi":3.90},
      {"g":"γ=.96","x":1.950,"y":3.35,"lo":2.80,"hi":3.95},
      {"g":"γ=.96","x":1.975,"y":3.48,"lo":2.90,"hi":4.10},
      {"g":"γ=.96","x":2.000,"y":3.62,"lo":3.05,"hi":4.30},
      {"g":"γ=.96","x":2.025,"y":3.55,"lo":3.00,"hi":4.20},
      {"g":"γ=.96","x":2.050,"y":3.48,"lo":2.90,"hi":4.10},
      {"g":"γ=.96","x":2.075,"y":3.38,"lo":2.80,"hi":4.00},
      {"g":"γ=.96","x":2.100,"y":3.30,"lo":2.75,"hi":3.90},
      {"g":"γ=.96","x":2.125,"y":3.32,"lo":2.75,"hi":3.95},
      {"g":"γ=.96","x":2.150,"y":3.38,"lo":2.80,"hi":4.00},
      {"g":"γ=.96","x":2.175,"y":3.35,"lo":2.80,"hi":3.95},
      {"g":"γ=.96","x":2.200,"y":3.42,"lo":2.85,"hi":4.05},
      {"g":"γ=.96","x":2.225,"y":3.45,"lo":2.90,"hi":4.10},
      {"g":"γ=.96","x":2.250,"y":3.40,"lo":2.85,"hi":4.00},
      {"g":"γ=.96","x":2.275,"y":3.38,"lo":2.80,"hi":4.00},
      {"g":"γ=.96","x":2.300,"y":3.32,"lo":2.75,"hi":3.95},
      {"g":"γ=.96","x":2.325,"y":3.28,"lo":2.70,"hi":3.90},
      {"g":"γ=.96","x":2.350,"y":3.25,"lo":2.70,"hi":3.85},
      {"g":"γ=.96","x":2.375,"y":3.40,"lo":2.85,"hi":4.00},
      {"g":"γ=.96","x":2.400,"y":3.52,"lo":2.95,"hi":4.15},
      {"g":"γ=.96","x":2.425,"y":3.55,"lo":3.00,"hi":4.20},
      {"g":"γ=.96","x":2.450,"y":3.48,"lo":2.90,"hi":4.10},
      {"g":"γ=.96","x":2.475,"y":3.42,"lo":2.85,"hi":4.05},
      {"g":"γ=.96","x":2.500,"y":3.35,"lo":2.80,"hi":3.95},
      {"g":"γ=.96","x":2.525,"y":3.42,"lo":2.85,"hi":4.05},
      {"g":"γ=.96","x":2.550,"y":3.50,"lo":2.95,"hi":4.10},
      {"g":"γ=.96","x":2.575,"y":3.45,"lo":2.90,"hi":4.05},
      {"g":"γ=.96","x":2.600,"y":3.38,"lo":2.80,"hi":4.00},
      {"g":"γ=.96","x":2.625,"y":3.25,"lo":2.70,"hi":3.85},
      {"g":"γ=.96","x":2.650,"y":3.15,"lo":2.60,"hi":3.75},
      {"g":"γ=.96","x":2.675,"y":3.22,"lo":2.65,"hi":3.85},
      {"g":"γ=.96","x":2.700,"y":3.30,"lo":2.75,"hi":3.90},
      {"g":"γ=.96","x":2.725,"y":3.38,"lo":2.80,"hi":4.00},
      {"g":"γ=.96","x":2.750,"y":3.45,"lo":2.90,"hi":4.10},
      {"g":"γ=.96","x":2.775,"y":3.40,"lo":2.85,"hi":4.00},
      {"g":"γ=.96","x":2.800,"y":3.35,"lo":2.80,"hi":3.95},
      {"g":"γ=.96","x":2.825,"y":3.38,"lo":2.80,"hi":4.00},
      {"g":"γ=.96","x":2.850,"y":3.42,"lo":2.85,"hi":4.05},
      {"g":"γ=.96","x":2.875,"y":3.45,"lo":2.90,"hi":4.10},
      {"g":"γ=.96","x":2.900,"y":3.40,"lo":2.85,"hi":4.00},
      {"g":"γ=.96","x":2.925,"y":3.42,"lo":2.85,"hi":4.05},
      {"g":"γ=.96","x":2.950,"y":3.38,"lo":2.80,"hi":4.00},
      {"g":"γ=.96","x":2.975,"y":3.35,"lo":2.80,"hi":3.95},
      {"g":"γ=.96","x":3.000,"y":3.40,"lo":2.85,"hi":4.05},
      {"g":"γ=.96","x":3.025,"y":3.48,"lo":2.90,"hi":4.10},
      {"g":"γ=.96","x":3.050,"y":3.58,"lo":3.00,"hi":4.20},
      {"g":"γ=.96","x":3.075,"y":3.50,"lo":2.95,"hi":4.15},
      {"g":"γ=.96","x":3.100,"y":3.45,"lo":2.90,"hi":4.10},
      {"g":"γ=.96","x":3.125,"y":3.40,"lo":2.85,"hi":4.05},
      {"g":"γ=.96","x":3.150,"y":3.35,"lo":2.80,"hi":4.00},
      {"g":"γ=.96","x":3.175,"y":3.32,"lo":2.75,"hi":3.95},
      {"g":"γ=.96","x":3.200,"y":3.42,"lo":2.85,"hi":4.10},
      {"g":"γ=.96","x":3.225,"y":3.48,"lo":2.90,"hi":4.15},
      {"g":"γ=.96","x":3.250,"y":3.55,"lo":3.00,"hi":4.25},
      {"g":"γ=.96","x":3.275,"y":3.50,"lo":2.95,"hi":4.20},
      {"g":"γ=.96","x":3.300,"y":3.45,"lo":2.90,"hi":4.15},
      {"g":"γ=.96","x":3.325,"y":3.52,"lo":2.95,"hi":4.25},
      {"g":"γ=.96","x":3.350,"y":3.48,"lo":2.90,"hi":4.20},
      {"g":"γ=.96","x":3.375,"y":3.55,"lo":3.00,"hi":4.30},
      {"g":"γ=.96","x":3.400,"y":3.58,"lo":3.00,"hi":4.30},
      {"g":"γ=.96","x":3.425,"y":3.52,"lo":2.95,"hi":4.25},
      {"g":"γ=.96","x":3.450,"y":3.50,"lo":2.95,"hi":4.25},
      {"g":"γ=.96","x":3.475,"y":3.62,"lo":3.05,"hi":4.35},
      {"g":"γ=.96","x":3.500,"y":3.65,"lo":3.10,"hi":4.40},
      {"g":"γ=.998","x":0.000,"y":0.60,"lo":0.05,"hi":1.20},
      {"g":"γ=.998","x":0.010,"y":0.95,"lo":0.35,"hi":1.55},
      {"g":"γ=.998","x":0.025,"y":1.60,"lo":0.95,"hi":2.20},
      {"g":"γ=.998","x":0.050,"y":2.25,"lo":1.60,"hi":2.85},
      {"g":"γ=.998","x":0.075,"y":2.60,"lo":1.95,"hi":3.20},
      {"g":"γ=.998","x":0.100,"y":2.75,"lo":2.10,"hi":3.35},
      {"g":"γ=.998","x":0.125,"y":2.70,"lo":2.05,"hi":3.30},
      {"g":"γ=.998","x":0.150,"y":2.60,"lo":1.95,"hi":3.20},
      {"g":"γ=.998","x":0.175,"y":2.50,"lo":1.85,"hi":3.10},
      {"g":"γ=.998","x":0.200,"y":2.40,"lo":1.75,"hi":3.00},
      {"g":"γ=.998","x":0.225,"y":2.35,"lo":1.70,"hi":2.95},
      {"g":"γ=.998","x":0.250,"y":2.15,"lo":1.50,"hi":2.80},
      {"g":"γ=.998","x":0.275,"y":2.45,"lo":1.80,"hi":3.05},
      {"g":"γ=.998","x":0.300,"y":2.65,"lo":2.00,"hi":3.25},
      {"g":"γ=.998","x":0.325,"y":2.75,"lo":2.10,"hi":3.35},
      {"g":"γ=.998","x":0.350,"y":2.90,"lo":2.25,"hi":3.50},
      {"g":"γ=.998","x":0.375,"y":2.80,"lo":2.15,"hi":3.40},
      {"g":"γ=.998","x":0.400,"y":2.85,"lo":2.20,"hi":3.45},
      {"g":"γ=.998","x":0.425,"y":2.75,"lo":2.10,"hi":3.35},
      {"g":"γ=.998","x":0.450,"y":2.85,"lo":2.15,"hi":3.45},
      {"g":"γ=.998","x":0.475,"y":2.70,"lo":1.95,"hi":3.30},
      {"g":"γ=.998","x":0.500,"y":2.45,"lo":1.65,"hi":3.10},
      {"g":"γ=.998","x":0.520,"y":2.30,"lo":1.50,"hi":2.95},
      {"g":"γ=1.0","x":0.000,"y":0.90,"lo":0.20,"hi":1.60},
      {"g":"γ=1.0","x":0.010,"y":1.30,"lo":0.55,"hi":2.00},
      {"g":"γ=1.0","x":0.025,"y":1.80,"lo":1.05,"hi":2.45},
      {"g":"γ=1.0","x":0.050,"y":2.20,"lo":1.45,"hi":2.85},
      {"g":"γ=1.0","x":0.075,"y":2.45,"lo":1.70,"hi":3.10},
      {"g":"γ=1.0","x":0.100,"y":2.60,"lo":1.85,"hi":3.25},
      {"g":"γ=1.0","x":0.125,"y":2.55,"lo":1.80,"hi":3.20},
      {"g":"γ=1.0","x":0.150,"y":2.45,"lo":1.75,"hi":3.10},
      {"g":"γ=1.0","x":0.200,"y":2.40,"lo":1.70,"hi":3.05},
      {"g":"γ=1.0","x":0.250,"y":2.30,"lo":1.55,"hi":2.95},
      {"g":"γ=1.0","x":0.275,"y":2.45,"lo":1.70,"hi":3.10},
      {"g":"γ=1.0","x":0.300,"y":2.60,"lo":1.85,"hi":3.25},
      {"g":"γ=1.0","x":0.350,"y":3.00,"lo":2.30,"hi":3.65},
      {"g":"γ=1.0","x":0.400,"y":3.30,"lo":2.60,"hi":3.90},
      {"g":"γ=1.0","x":0.450,"y":3.40,"lo":2.70,"hi":4.00},
      {"g":"γ=1.0","x":0.500,"y":3.25,"lo":2.55,"hi":3.85},
      {"g":"γ=1.0","x":0.550,"y":3.35,"lo":2.70,"hi":3.95},
      {"g":"γ=1.0","x":0.600,"y":3.20,"lo":2.55,"hi":3.80},
      {"g":"γ=1.0","x":0.650,"y":3.10,"lo":2.50,"hi":3.70},
      {"g":"γ=1.0","x":0.700,"y":3.15,"lo":2.55,"hi":3.75},
      {"g":"γ=1.0","x":0.750,"y":3.00,"lo":2.45,"hi":3.60},
      {"g":"γ=1.0","x":0.800,"y":3.10,"lo":2.55,"hi":3.70},
      {"g":"γ=1.0","x":0.850,"y":3.05,"lo":2.50,"hi":3.60},
      {"g":"γ=1.0","x":0.900,"y":3.20,"lo":2.65,"hi":3.75},
      {"g":"γ=1.0","x":0.950,"y":3.15,"lo":2.60,"hi":3.70},
      {"g":"γ=1.0","x":1.000,"y":3.05,"lo":2.50,"hi":3.60},
      {"g":"γ=1.0","x":1.050,"y":3.10,"lo":2.55,"hi":3.65},
      {"g":"γ=1.0","x":1.100,"y":3.20,"lo":2.65,"hi":3.75},
      {"g":"γ=1.0","x":1.150,"y":3.15,"lo":2.60,"hi":3.70},
      {"g":"γ=1.0","x":1.200,"y":2.90,"lo":2.35,"hi":3.45},
      {"g":"γ=1.0","x":1.250,"y":2.25,"lo":1.70,"hi":2.85},
      {"g":"γ=1.0","x":1.300,"y":2.00,"lo":1.45,"hi":2.60},
      {"g":"γ=1.0","x":1.350,"y":2.30,"lo":1.75,"hi":2.85},
      {"g":"γ=1.0","x":1.400,"y":2.80,"lo":2.25,"hi":3.35},
      {"g":"γ=1.0","x":1.450,"y":3.00,"lo":2.45,"hi":3.55},
      {"g":"γ=1.0","x":1.500,"y":2.95,"lo":2.40,"hi":3.50},
      {"g":"γ=1.0","x":1.550,"y":2.85,"lo":2.30,"hi":3.40},
      {"g":"γ=1.0","x":1.600,"y":2.75,"lo":2.20,"hi":3.30},
      {"g":"γ=1.0","x":1.650,"y":2.45,"lo":1.90,"hi":3.00},
      {"g":"γ=1.0","x":1.700,"y":2.40,"lo":1.85,"hi":2.95},
      {"g":"γ=1.0","x":1.750,"y":2.60,"lo":2.05,"hi":3.15},
      {"g":"γ=1.0","x":1.800,"y":2.75,"lo":2.20,"hi":3.30},
      {"g":"γ=1.0","x":1.850,"y":2.85,"lo":2.30,"hi":3.40},
      {"g":"γ=1.0","x":1.900,"y":3.00,"lo":2.45,"hi":3.55},
      {"g":"γ=1.0","x":1.950,"y":2.90,"lo":2.35,"hi":3.45},
      {"g":"γ=1.0","x":2.000,"y":2.85,"lo":2.30,"hi":3.40},
      {"g":"γ=1.0","x":2.050,"y":2.90,"lo":2.35,"hi":3.45},
      {"g":"γ=1.0","x":2.100,"y":2.75,"lo":2.20,"hi":3.30},
      {"g":"γ=1.0","x":2.150,"y":2.65,"lo":2.10,"hi":3.20},
      {"g":"γ=1.0","x":2.200,"y":2.80,"lo":2.25,"hi":3.35},
      {"g":"γ=1.0","x":2.250,"y":2.95,"lo":2.40,"hi":3.50},
      {"g":"γ=1.0","x":2.300,"y":3.10,"lo":2.55,"hi":3.65},
      {"g":"γ=1.0","x":2.350,"y":3.35,"lo":2.75,"hi":3.90},
      {"g":"γ=1.0","x":2.400,"y":3.00,"lo":2.45,"hi":3.55},
      {"g":"γ=1.0","x":2.450,"y":2.90,"lo":2.35,"hi":3.45},
      {"g":"γ=1.0","x":2.500,"y":3.00,"lo":2.45,"hi":3.55},
      {"g":"γ=1.0","x":2.550,"y":3.10,"lo":2.55,"hi":3.65},
      {"g":"γ=1.0","x":2.600,"y":2.95,"lo":2.40,"hi":3.50},
      {"g":"γ=1.0","x":2.650,"y":3.00,"lo":2.45,"hi":3.55},
      {"g":"γ=1.0","x":2.700,"y":3.05,"lo":2.50,"hi":3.60},
      {"g":"γ=1.0","x":2.750,"y":2.80,"lo":2.25,"hi":3.35},
      {"g":"γ=1.0","x":2.800,"y":2.65,"lo":2.10,"hi":3.20},
      {"g":"γ=1.0","x":2.850,"y":2.70,"lo":2.15,"hi":3.25},
      {"g":"γ=1.0","x":2.900,"y":2.85,"lo":2.30,"hi":3.40},
      {"g":"γ=1.0","x":2.950,"y":3.00,"lo":2.45,"hi":3.55},
      {"g":"γ=1.0","x":3.000,"y":3.10,"lo":2.55,"hi":3.65},
      {"g":"γ=1.0","x":3.050,"y":2.95,"lo":2.40,"hi":3.50},
      {"g":"γ=1.0","x":3.100,"y":3.15,"lo":2.60,"hi":3.70},
      {"g":"γ=1.0","x":3.150,"y":3.10,"lo":2.55,"hi":3.65},
      {"g":"γ=1.0","x":3.200,"y":3.00,"lo":2.45,"hi":3.55},
      {"g":"γ=1.0","x":3.250,"y":3.05,"lo":2.50,"hi":3.60},
      {"g":"γ=1.0","x":3.300,"y":3.20,"lo":2.65,"hi":3.75},
      {"g":"γ=1.0","x":3.350,"y":3.10,"lo":2.55,"hi":3.65},
      {"g":"γ=1.0","x":3.390,"y":3.05,"lo":2.50,"hi":3.60}
    ],
    "offsetLabel": [
      {"x": 3.5, "y": 0, "label": "1e9"}
    ]
  },
  "layer": [
    {
      "data": {"name": "tvt"},
      "mark": {"type": "area", "opacity": 0.25},
      "encoding": {
        "x": {"field": "x", "type": "quantitative", "scale": {"domain": [0, 3.5], "nice": false}, "axis": {"title": "Agent Steps", "values": [0, 0.5, 1, 1.5, 2, 2.5, 3, 3.5], "format": ".1f"}},
        "y": {"field": "lo", "type": "quantitative", "scale": {"domain": [0, 10], "nice": false}, "axis": {"title": "P3 Reward", "values": [0, 2, 4, 6, 8, 10], "format": "d"}},
        "y2": {"field": "hi"},
        "color": {"field": "g", "type": "nominal", "scale": {"domain": ["γ=.96"], "range": ["#000000"]}, "legend": null}
      }
    },
    {
      "data": {"name": "rma"},
      "mark": {"type": "area", "opacity": 0.25},
      "encoding": {
        "x": {"field": "x", "type": "quantitative", "axis": {"title": "Agent Steps", "values": [0, 0.5, 1, 1.5, 2, 2.5, 3, 3.5], "format": ".1f"}},
        "y": {"field": "lo", "type": "quantitative", "axis": {"title": "P3 Reward", "values": [0, 2, 4, 6, 8, 10], "format": "d"}},
        "y2": {"field": "hi"},
        "color": {"field": "g", "type": "nominal", "scale": {"domain": ["γ=.96", "γ=.998", "γ=1.0"], "range": ["#2171b5", "#6baed6", "#bdd7e7"]}, "legend": null}
      }
    },
    {
      "data": {"name": "lstm"},
      "mark": {"type": "area", "opacity": 0.25},
      "encoding": {
        "x": {"field": "x", "type": "quantitative", "axis": {"title": "Agent Steps", "values": [0, 0.5, 1, 1.5, 2, 2.5, 3, 3.5], "format": ".1f"}},
        "y": {"field": "lo", "type": "quantitative", "axis": {"title": "P3 Reward", "values": [0, 2, 4, 6, 8, 10], "format": "d"}},
        "y2": {"field": "hi"},
        "color": {"field": "g", "type": "nominal", "scale": {"domain": ["γ=.96", "γ=.998", "γ=1.0"], "range": ["#cb181d", "#fb6a4a", "#fcae91"]}, "legend": null}
      }
    },
    {
      "data": {"name": "tvt"},
      "mark": {"type": "line", "strokeWidth": 11, "strokeCap": "round", "strokeJoin": "round"},
      "encoding": {
        "x": {"field": "x", "type": "quantitative", "axis": {"title": "Agent Steps", "values": [0, 0.5, 1, 1.5, 2, 2.5, 3, 3.5], "format": ".1f"}},
        "y": {"field": "y", "type": "quantitative", "axis": {"title": "P3 Reward", "values": [0, 2, 4, 6, 8, 10], "format": "d"}},
        "color": {
          "field": "g", "type": "nominal",
          "scale": {"domain": ["γ=.96"], "range": ["#000000"]},
          "legend": {"title": "TVT", "legendX": 393, "legendY": -147, "labelOffset": 20, "encode": {"symbols": {"update": {"strokeCap": {"value": "round"}}}}}
        }
      }
    },
    {
      "data": {"name": "rma"},
      "mark": {"type": "line", "strokeWidth": 10, "strokeCap": "round", "strokeJoin": "round"},
      "encoding": {
        "x": {"field": "x", "type": "quantitative", "axis": {"title": "Agent Steps", "values": [0, 0.5, 1, 1.5, 2, 2.5, 3, 3.5], "format": ".1f"}},
        "y": {"field": "y", "type": "quantitative", "axis": {"title": "P3 Reward", "values": [0, 2, 4, 6, 8, 10], "format": "d"}},
        "color": {
          "field": "g", "type": "nominal",
          "scale": {"domain": ["γ=.96", "γ=.998", "γ=1.0"], "range": ["#2171b5", "#6baed6", "#bdd7e7"]},
          "legend": {"title": "RMA", "legendX": 605, "legendY": -147, "labelOffset": 13, "encode": {"symbols": {"update": {"strokeCap": {"value": "round"}}}}}
        }
      }
    },
    {
      "data": {"name": "lstm"},
      "mark": {"type": "line", "strokeWidth": 10, "strokeCap": "round", "strokeJoin": "round"},
      "encoding": {
        "x": {"field": "x", "type": "quantitative", "axis": {"title": "Agent Steps", "values": [0, 0.5, 1, 1.5, 2, 2.5, 3, 3.5], "format": ".1f"}},
        "y": {"field": "y", "type": "quantitative", "axis": {"title": "P3 Reward", "values": [0, 2, 4, 6, 8, 10], "format": "d"}},
        "color": {
          "field": "g", "type": "nominal",
          "scale": {"domain": ["γ=.96", "γ=.998", "γ=1.0"], "range": ["#cb181d", "#fb6a4a", "#fcae91"]},
          "legend": {"title": "LSTM+Mem", "legendX": 828, "legendY": -147, "labelOffset": 23, "encode": {"symbols": {"update": {"strokeCap": {"value": "round"}}}}}
        }
      }
    },
    {
      "data": {"name": "offsetLabel"},
      "mark": {"type": "text", "align": "right", "baseline": "alphabetic", "dy": 120, "fontSize": 38, "font": "DejaVu Sans", "color": "#262626"},
      "encoding": {
        "x": {"field": "x", "type": "quantitative", "axis": {"title": "Agent Steps", "values": [0, 0.5, 1, 1.5, 2, 2.5, 3, 3.5], "format": ".1f"}},
        "y": {"field": "y", "type": "quantitative", "axis": {"title": "P3 Reward", "values": [0, 2, 4, 6, 8, 10], "format": "d"}},
        "text": {"field": "label"}
      }
    }
  ],
  "resolve": {"scale": {"color": "independent"}, "legend": {"color": "independent"}}
}
